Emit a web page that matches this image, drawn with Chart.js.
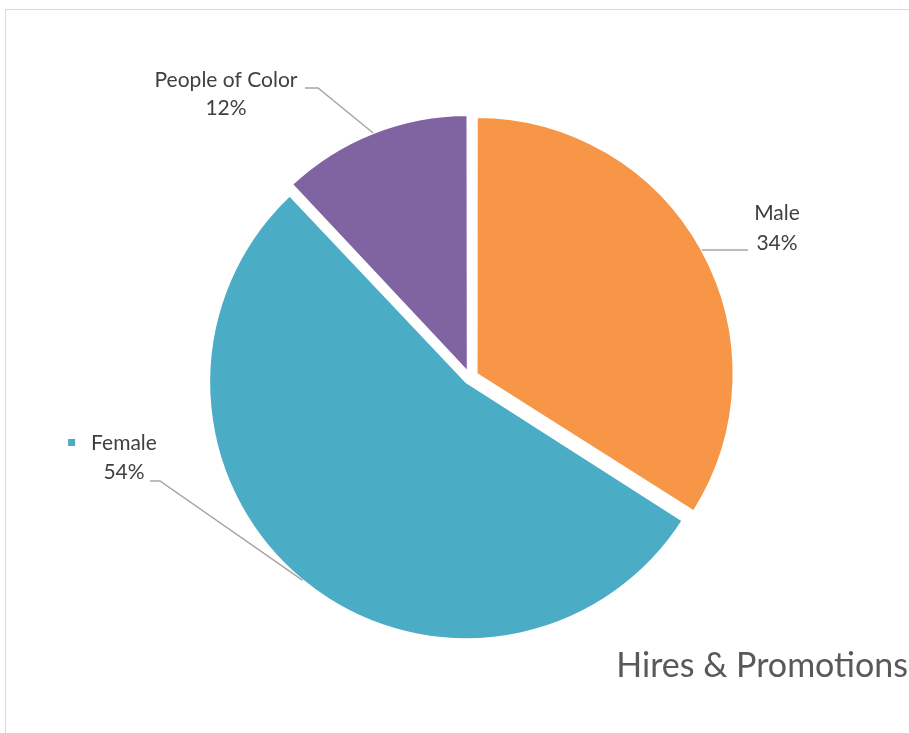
<!DOCTYPE html>
<html>
<head>
<meta charset="utf-8">
<script src="https://cdn.jsdelivr.net/npm/chart.js@4.4.1/dist/chart.umd.min.js"></script>
<style>
  html, body { margin: 0; padding: 0; background: #fff; overflow: hidden; }
  #frame {
    position: absolute; left: 5px; top: 9px; width: 1000px; height: 800px;
    border-left: 1.5px solid #d9d9d9; border-top: 1.5px solid #d9d9d9;
  }
  #wrap { position: absolute; left: 0; top: 0; width: 909px; height: 733px; }
</style>
</head>
<body>
<div id="frame"></div>
<div id="wrap"><canvas id="hiresChart"></canvas></div>
<script>
const categories = ['Male', 'Female', 'People of Color'];
const shares = [34, 54, 12];
const sliceColors = ['#f79646', '#4bacc6', '#8064a2'];
const chartTitle = 'Hires & Promotions';

// label boxes and leader line bends for each slice
const labelSpots = [
  { x: 777, y: 213, lineGap: 30, bend: null, end: [748, 250] },
  { x: 124, y: 443, lineGap: 29, bend: [160, 481], end: [150, 481], key: true },
  { x: 226, y: 80, lineGap: 28, bend: [318, 88], end: [305, 88] }
];

const labelFont = '21px Lato, "Open Sans", sans-serif';
const titleFont = '34px Lato, "Open Sans", sans-serif';

// Chart.js grows the radius of exploded slices; keep every slice the same size
const evenRadius = {
  id: 'evenRadius',
  afterDatasetUpdate(chart, args) {
    args.meta.data.forEach(arc => {
      const circ = arc.endAngle - arc.startAngle;
      const shift = (arc.options.offset || 0) / 4;
      arc.outerRadius -= shift * (1 - Math.sin(Math.min(Math.PI, circ)));
    });
  }
};

const pieLabels = {
  id: 'pieLabels',
  afterDatasetsDraw(chart) {
    const ctx = chart.ctx;
    const meta = chart.getDatasetMeta(0);
    ctx.save();
    meta.data.forEach((arc, i) => {
      const spot = labelSpots[i];
      const circ = arc.endAngle - arc.startAngle;
      const mid = (arc.startAngle + arc.endAngle) / 2;
      const shift = (arc.options.offset || 0) / 4;
      const r = arc.outerRadius + shift * (1 - Math.sin(Math.min(Math.PI, circ)));
      const sx = arc.x + Math.cos(mid) * (r + shift);
      const sy = arc.y + Math.sin(mid) * (r + shift);

      // leader line
      ctx.strokeStyle = '#a6a6a6';
      ctx.lineWidth = 1.5;
      ctx.beginPath();
      ctx.moveTo(sx, sy);
      if (spot.bend) ctx.lineTo(spot.bend[0], spot.bend[1]);
      ctx.lineTo(spot.end[0], spot.end[1]);
      ctx.stroke();

      // category name and percentage
      ctx.fillStyle = '#404040';
      ctx.font = labelFont;
      ctx.textAlign = 'center';
      ctx.textBaseline = 'middle';
      ctx.fillText(categories[i], spot.x, spot.y);
      ctx.fillText(shares[i] + '%', spot.x, spot.y + spot.lineGap);

      if (spot.key) {
        const w = ctx.measureText(categories[i]).width;
        ctx.fillStyle = sliceColors[i];
        ctx.fillRect(spot.x - w / 2 - 23, spot.y - 4, 7, 7);
      }
    });

    ctx.fillStyle = '#595959';
    ctx.font = titleFont;
    ctx.textAlign = 'right';
    ctx.textBaseline = 'alphabetic';
    ctx.fillText(chartTitle, 908, 677);
    ctx.restore();
  }
};

new Chart(document.getElementById('hiresChart'), {
  type: 'pie',
  data: {
    labels: categories,
    datasets: [{
      data: shares,
      backgroundColor: sliceColors,
      borderColor: '#ffffff',
      borderWidth: 2,
      offset: [30, 24, 24]
    }]
  },
  options: {
    responsive: true,
    maintainAspectRatio: false,
    animation: false,
    radius: 257,
    layout: { padding: { left: 57, right: 26, top: 41, bottom: 19 } },
    plugins: {
      legend: { display: false },
      tooltip: { enabled: false },
      title: { display: false }
    }
  },
  plugins: [evenRadius, pieLabels]
});
</script>
</body>
</html>
